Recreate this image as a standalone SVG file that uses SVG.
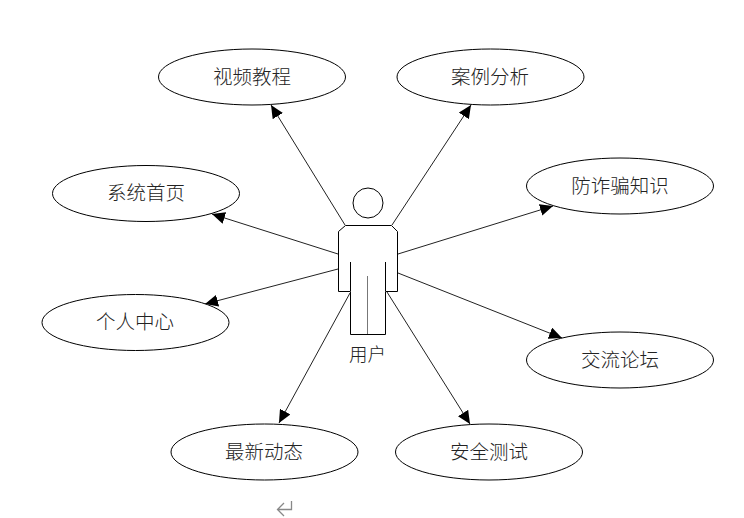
<svg xmlns="http://www.w3.org/2000/svg" width="744" height="518" viewBox="0 0 744 518">
<defs>
<style>
.n ellipse{fill:#fff;stroke:#000;stroke-width:1}
text{font-family:"Noto Sans CJK SC","Noto Sans CJK JP",sans-serif;font-size:19.500px;font-weight:300;fill:#222;text-anchor:middle}
.c line{stroke:#222;stroke-width:1;marker-end:url(#a)}
.f{fill:#fff;stroke:#000;stroke-width:1}
</style>
<marker id="a" markerUnits="userSpaceOnUse" markerWidth="14" markerHeight="12" refX="13" refY="6" orient="auto"><path d="M0 0L13 6L0 12Z" fill="#000"/></marker>
</defs>
<rect width="744" height="518" fill="#fff"/>
<g id="connectors" class="c">
<line x1="345" y1="225" x2="271" y2="105"/>
<line x1="392" y1="225" x2="471" y2="105"/>
<line x1="398" y1="254" x2="553" y2="206"/>
<line x1="338" y1="254" x2="212" y2="214"/>
<line x1="338" y1="269" x2="205" y2="304"/>
<line x1="398" y1="273" x2="562" y2="338"/>
<line x1="350" y1="293" x2="279" y2="423"/>
<line x1="387" y1="292" x2="470" y2="424"/>
</g>
<g id="user">
<circle class="f" cx="368" cy="203" r="15"/>
<path class="f" d="M345.500 225.500H391.500L397.500 231.500V291.500H385.500V334.500H350.500V291.500H338.500V231.500Z"/>
<path d="M350.500 262V291M385.500 262V291" stroke="#000" fill="none"/>
<path d="M367.500 276V334" stroke="#777" fill="none"/>
<text x="367.500" y="361" style="font-size:18.500px">用户</text>
</g>
<g id="n1" class="n"><ellipse cx="252" cy="77" rx="93.500" ry="28"/><text x="252" y="84">视频教程</text></g>
<g id="n2" class="n"><ellipse cx="490.500" cy="77" rx="93.500" ry="28"/><text x="490" y="84">案例分析</text></g>
<g id="n3" class="n"><ellipse cx="620" cy="186" rx="93.500" ry="28"/><text x="620" y="193">防诈骗知识</text></g>
<g id="n4" class="n"><ellipse cx="146" cy="193.500" rx="93.500" ry="28"/><text x="146" y="200">系统首页</text></g>
<g id="n5" class="n"><ellipse cx="135.500" cy="322.500" rx="93.500" ry="28"/><text x="135" y="329">个人中心</text></g>
<g id="n6" class="n"><ellipse cx="620" cy="360" rx="93.500" ry="28"/><text x="620" y="366.500">交流论坛</text></g>
<g id="n7" class="n"><ellipse cx="264.500" cy="452" rx="93.500" ry="28"/><text x="264" y="458.500">最新动态</text></g>
<g id="n8" class="n"><ellipse cx="489" cy="452" rx="93.500" ry="28"/><text x="489" y="458.500">安全测试</text></g>
<path d="M291.500 501V509.500H278M284 503L277.500 509.500L284 516" fill="none" stroke="#888" stroke-width="1.300"/>
</svg>
